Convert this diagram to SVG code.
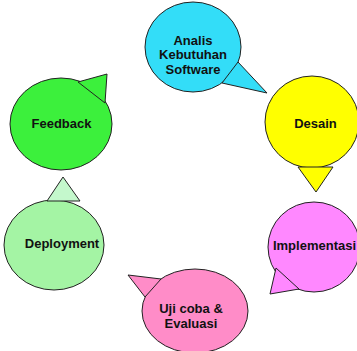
<svg xmlns="http://www.w3.org/2000/svg" width="357" height="351" viewBox="0 0 357 351">
  <style>
    .bubble { stroke: #222; stroke-width: 1; stroke-linejoin: round; }
    .label { font-family: "Liberation Sans", Arial, sans-serif; font-weight: bold; font-size: 13px; fill: #111; text-anchor: middle; }
  </style>
  <rect width="357" height="351" fill="#ffffff"/>

  <g id="analis">
    <ellipse class="bubble" cx="193" cy="47" rx="48" ry="45" fill="#33ddf8"/>
    <polygon class="bubble" points="238,62 267,93 222,83" fill="#33ddf8"/>
    <text class="label" x="193" y="45">Analis</text>
    <text class="label" x="193" y="59">Kebutuhan</text>
    <text class="label" x="193" y="74">Software</text>
  </g>

  <g id="desain">
    <ellipse class="bubble" cx="312" cy="122" rx="47" ry="46" fill="#ffff00"/>
    <polygon class="bubble" points="298,167 333,167 316,192" fill="#ffff00"/>
    <text class="label" x="315.5" y="128">Desain</text>
  </g>

  <g id="implementasi">
    <ellipse class="bubble" cx="314" cy="247" rx="46" ry="45" fill="#ff88ff"/>
    <polygon class="bubble" points="276,268 299,289 270,294" fill="#ff88ff"/>
    <text class="label" x="314.5" y="250">Implementasi</text>
  </g>

  <g id="ujicoba">
    <ellipse class="bubble" cx="195" cy="311" rx="53" ry="42" fill="#ff8cc8"/>
    <polygon class="bubble" points="161,279 145,297 128,275" fill="#ff8cc8"/>
    <text class="label" x="191" y="313">Uji coba &amp;</text>
    <text class="label" x="191" y="328">Evaluasi</text>
  </g>

  <g id="deployment">
    <ellipse class="bubble" cx="54" cy="245" rx="50" ry="45" fill="#a4f4a4"/>
    <polygon class="bubble" points="47,201 80,201 63,177" fill="#c4f8cc"/>
    <text class="label" x="62" y="248">Deployment</text>
  </g>

  <g id="feedback">
    <ellipse class="bubble" cx="61" cy="124" rx="51" ry="46" fill="#3cf03c"/>
    <polygon class="bubble" points="78,82 107,74 105,103" fill="#3cf03c"/>
    <text class="label" x="61.5" y="128">Feedback</text>
  </g>

  <g id="connectors"></g>
</svg>
